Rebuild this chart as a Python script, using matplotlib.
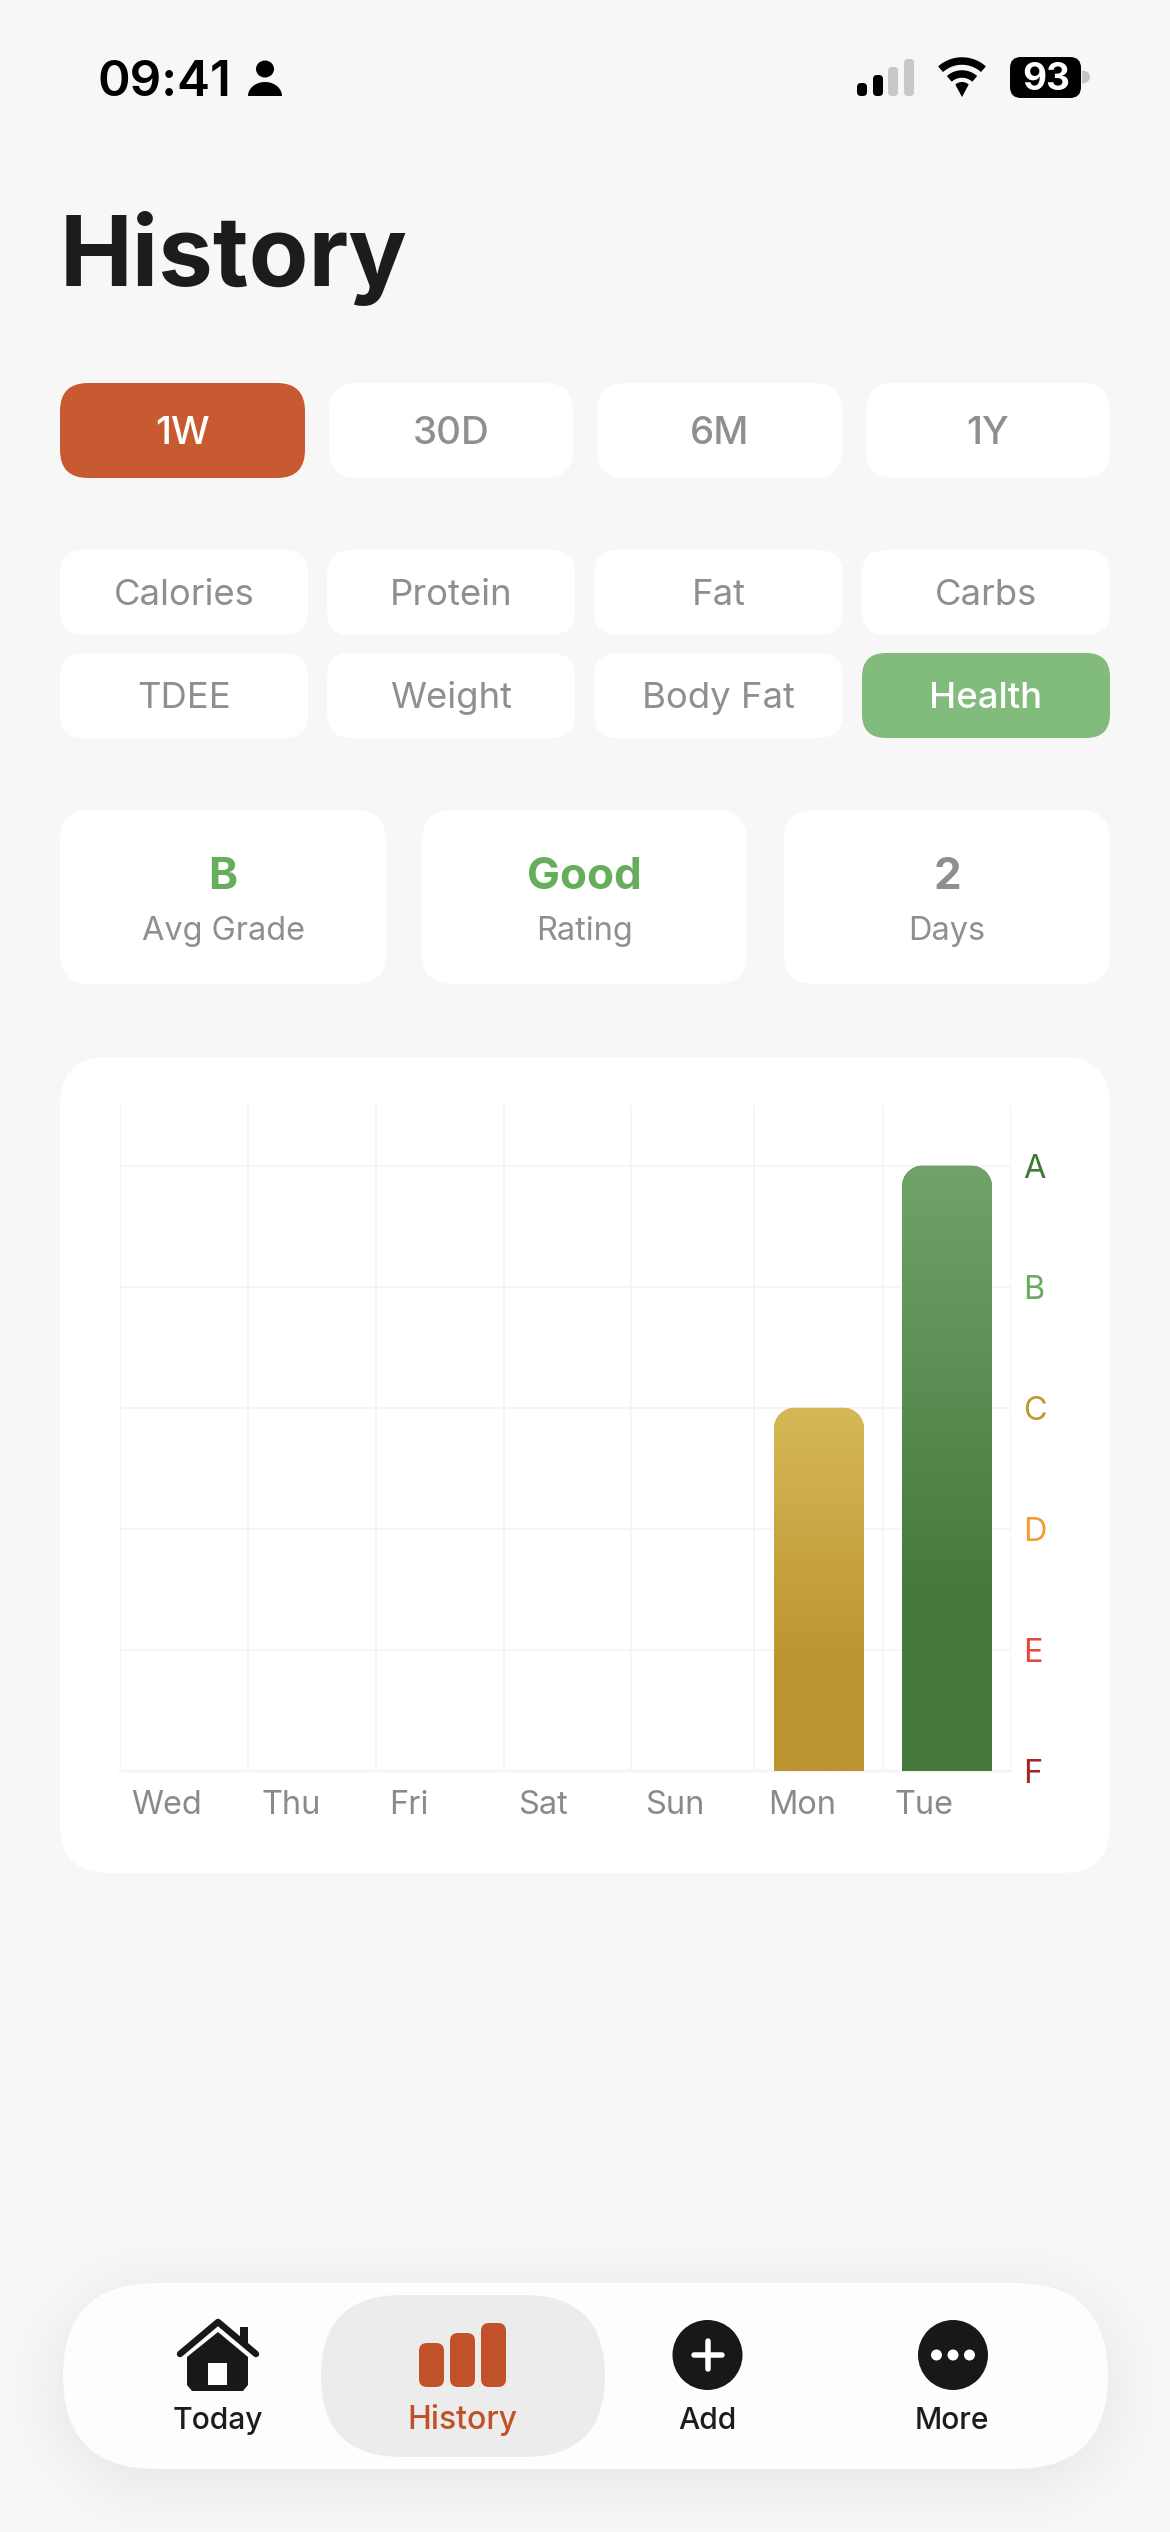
import numpy as np
import matplotlib
matplotlib.use("Agg")
import matplotlib.pyplot as plt
from matplotlib.patches import FancyBboxPatch, Circle, Polygon, PathPatch, Rectangle, Ellipse
from matplotlib.path import Path
from matplotlib.colors import LinearSegmentedColormap

# ---------- data ----------
days = ["Wed", "Thu", "Fri", "Sat", "Sun", "Mon", "Tue"]
grade_scores = [None, None, None, None, None, 3, 5]
grade_labels = ["F", "E", "D", "C", "B", "A"]
grade_colors = ["#A82424", "#E5483F", "#F29D2E", "#BF9730", "#66AE5C", "#3F7A35"]
periods = ["1W", "30D", "6M", "1Y"]
metrics_row1 = ["Calories", "Protein", "Fat", "Carbs"]
metrics_row2 = ["TDEE", "Weight", "Body Fat", "Health"]
stat_values = ["B", "Good", "2"]
stat_names = ["Avg Grade", "Rating", "Days"]
nav_items = ["Today", "History", "Add", "More"]

# ---------- layout ----------
W, H = 1170, 2532
BG = "#F7F7F8"
GREY = "#8E8E93"
DARK = "#1C1C1E"
FONT = "Inter"
plt.rcParams["font.family"] = [FONT, "DejaVu Sans"]

fig = plt.figure(figsize=(W / 100, H / 100), dpi=100, facecolor=BG)
ui = fig.add_axes([0, 0, 1, 1], zorder=0)
ui.set_xlim(0, W)
ui.set_ylim(H, 0)
ui.axis("off")


def px(v):
    return v * 0.72


def T(x, y, s, size, color=GREY, weight="normal", ha="center"):
    ui.text(x, y, s, fontsize=px(size), color=color, fontweight=weight,
            ha=ha, va="baseline", family=[FONT, "DejaVu Sans"], zorder=6)


def box(x0, y0, x1, y1, r, color, z=2):
    ui.add_patch(FancyBboxPatch((x0, y0), x1 - x0, y1 - y0,
                                boxstyle=f"round,pad=0,rounding_size={r}",
                                fc=color, ec="none", zorder=z))


# status bar
T(97, 96, "09:41", 49.5, "black", "semibold", "left")
ui.add_patch(Ellipse((265, 69), 18, 17, fc="black", ec="none"))
t = np.linspace(0, np.pi, 40)
ui.add_patch(Polygon(np.c_[265 + 17 * np.cos(t), 96 - 14 * np.sin(t)], fc="black", ec="none"))
sig_x = [857, 873, 888, 904]
sig_top = [83, 75, 67, 59]
sig_col = ["black", "black", "#C8C8C8", "#C8C8C8"]
for x, top, c in zip(sig_x, sig_top, sig_col):
    box(x, top, x + 10, 96, 4, c)
for r in (32, 19):
    a = np.radians(np.linspace(-42, 42, 40))
    ui.plot(962 + r * np.sin(a), 96 - 3 - r * np.cos(a), color="black", lw=px(7.5),
            solid_capstyle="butt", zorder=3)
a = np.radians(np.linspace(-42, 42, 20))
ui.add_patch(Polygon(np.r_[[[962, 97]], np.c_[962 + 10 * np.sin(a), 92 - 10 * np.cos(a)]],
                     fc="black", ec="none", joinstyle="round"))
box(1010, 57, 1081, 98, 11, "black")
T(1046, 90, "93", 37, "white", "bold")
t = np.linspace(-np.pi / 2, np.pi / 2, 30)
ui.add_patch(Polygon(np.c_[1082 + 8 * np.cos(t), 77 + 6.5 * np.sin(t)], fc="#C4C4C4", ec="none"))

# title
T(60, 286, "History", 97.5, DARK, "bold", "left")

# period selector
period_x = [(60, 305), (329, 573), (597, 842), (866, 1110)]
for (x0, x1), name in zip(period_x, periods):
    active = name == "1W"
    box(x0, 383, x1, 478, 28, "#C85A32" if active else "white")
    T((x0 + x1) / 2, 444, name, 38.5, "white" if active else GREY, "medium")

# metric selector
metric_x = [(60, 308), (327, 575), (594, 843), (862, 1110)]
for row, y0, y1, base in ((metrics_row1, 550, 635, 605), (metrics_row2, 653, 738, 708)):
    for (x0, x1), name in zip(metric_x, row):
        active = name == "Health"
        box(x0, y0, x1, y1, 24, "#82BC7C" if active else "white")
        T((x0 + x1) / 2, base, name, 36.5, "white" if active else GREY, "medium" if active else "normal")

# stat cards
stat_x = [(60, 386), (422, 747), (784, 1110)]
stat_cols = ["#66AD5C", "#66AD5C", GREY]
for (x0, x1), v, n, c in zip(stat_x, stat_values, stat_names, stat_cols):
    box(x0, 810, x1, 984, 30, "white")
    T((x0 + x1) / 2, 889, v, 44, c, "bold")
    T((x0 + x1) / 2, 940, n, 32.5, GREY)

# chart card
box(60, 1057, 1110, 1873, 48, "white")

# ---------- chart ----------
AX_X0, AX_X1, AX_Y0, AX_Y1 = 120, 1011, 1105, 1771
ax = fig.add_axes([AX_X0 / W, 1 - AX_Y1 / H, (AX_X1 - AX_X0) / W, (AX_Y1 - AX_Y0) / H], zorder=2)
ax.patch.set_alpha(0)
UNIT_X = (AX_X1 - AX_X0) / 7
UNIT_Y = (AX_Y1 - AX_Y0) / 5.5
ax.set_xlim(0, 7)
ax.set_ylim(0, 5.5)


def ux(p):
    return (p - AX_X0) / UNIT_X


grid_x = [ux(p) for p in (120, 248, 376, 504, 631, 754, 883, 1011)]
label_x = [ux(p) for p in (167, 291, 409, 543, 675, 802, 924)]
bar_x = [ux(p) for p in (0, 0, 0, 0, 0, 819, 947)]
gradients = {5: ("#D6B857", "#BC9530"), 6: ("#70A369", "#467A3C")}

ax.set_xticks(grid_x)
ax.set_xticklabels([])
ax.set_xticks(label_x, labels=days, minor=True)
ax.set_yticks(range(6))
ax.set_yticklabels(grade_labels)
ax.yaxis.tick_right()
ax.tick_params(axis="both", which="both", length=0)
ax.tick_params(axis="x", which="minor", labelsize=px(32.5), labelcolor="#8A8A8E", pad=px(43))
ax.tick_params(axis="y", labelsize=px(32.5), pad=px(12))
for lab in ax.get_xticklabels(minor=True):
    lab.set_va("baseline")
for lab, c in zip(ax.get_yticklabels(), grade_colors):
    lab.set_color(c)
ax.grid(True, which="major", color="#F4F4F5", lw=px(1.8))
ax.set_axisbelow(True)
for s in ax.spines.values():
    s.set_visible(False)
ax.axhline(0, color="#F4F4F5", lw=px(2.5), zorder=0.5, clip_on=False)

idx = [i for i, v in enumerate(grade_scores) if v is not None]
vals = [grade_scores[i] for i in idx]
bar_w = 90 / UNIT_X
bars = ax.bar([bar_x[i] for i in idx], vals, width=bar_w, zorder=3, linewidth=0)
rx, ry = 21 / UNIT_X, 21 / UNIT_Y
k = 0.45
for i, b in zip(idx, bars):
    x0, x1 = b.get_x(), b.get_x() + b.get_width()
    top = b.get_height()
    verts = [(x0, 0), (x0, top - ry), (x0, top - ry * k), (x0 + rx * k, top), (x0 + rx, top),
             (x1 - rx, top), (x1 - rx * k, top), (x1, top - ry * k), (x1, top - ry), (x1, 0), (x0, 0)]
    codes = [Path.MOVETO, Path.LINETO, Path.CURVE4, Path.CURVE4, Path.CURVE4,
             Path.LINETO, Path.CURVE4, Path.CURVE4, Path.CURVE4, Path.LINETO, Path.CLOSEPOLY]
    clip = PathPatch(Path(verts, codes), transform=ax.transData, fc="none", ec="none")
    ax.add_patch(clip)
    c_top, c_bot = gradients[i]
    b.set_facecolor(c_bot)
    b.set_clip_path(clip)
    cmap = LinearSegmentedColormap.from_list("g", [(0, c_bot), (0.3, c_bot), (1, c_top)])
    im = ax.imshow(np.linspace(0, 1, 256)[:, None], origin="lower", aspect="auto", cmap=cmap,
                   extent=(x0, x1, 0, top), zorder=3.5, interpolation="bilinear")
    im.set_clip_path(clip)
ax.set_xlim(0, 7)
ax.set_ylim(0, 5.5)

# ---------- tab bar ----------
NX0, NX1, NY0, NY1 = 63, 1108, 2283, 2469
yy, xx = np.mgrid[2100:H, 0:W]
cx, cy = (NX0 + NX1) / 2, (NY0 + NY1) / 2 + 12
hw, hh = (NX1 - NX0) / 2, (NY1 - NY0) / 2
R = hh
qx = np.abs(xx + 0.5 - cx) - (hw - R)
qy = np.abs(yy + 0.5 - cy) - (hh - R)
sd = np.hypot(np.maximum(qx, 0), np.maximum(qy, 0)) + np.minimum(np.maximum(qx, qy), 0) - R
alpha = 0.055 * np.clip(1 - (sd + 15) / 95, 0, 1) ** 2
alpha = np.where(sd < -15, 0.055, alpha)
rgba = np.zeros(sd.shape + (4,))
rgba[..., 3] = alpha
ui.imshow(rgba, extent=(0, W, H, 2100), aspect="auto", zorder=1, interpolation="nearest")
ui.set_xlim(0, W)
ui.set_ylim(H, 0)

box(NX0, NY0, NX1, NY1, 93, "#FDFDFD", z=2)
box(321, 2295, 605, 2457, 81, "#ECECEC", z=3)

nav_x = [218, 462, 707, 952]
nav_cols = [DARK, "#C05128", DARK, DARK]
nav_sizes = [30, 32, 30, 30]
for x, n, c, s in zip(nav_x, nav_items, nav_cols, nav_sizes):
    T(x, 2429, n, s, c, "medium")

ICON = "#18181A"
# home
ui.plot([180, 218, 256], [2354, 2322, 2354], color=ICON, lw=px(6.5), solid_capstyle="round",
        solid_joinstyle="round", zorder=4)
ui.add_patch(Rectangle((240, 2327), 8, 18, fc=ICON, ec="none", zorder=4))
ui.add_patch(Polygon([(218, 2332), (248, 2357), (248, 2385), (243, 2391), (192, 2391), (187, 2385), (187, 2357)],
                     fc=ICON, ec="none", zorder=4))
ui.add_patch(Rectangle((208, 2363), 19, 22, fc="white", ec="none", zorder=5))
# history bars
for x0, top in ((419, 2343), (450, 2333), (481, 2323)):
    box(x0, top, x0 + 25, 2387, 8, "#C05128", z=4)
# add
ui.add_patch(Circle((707.5, 2355), 35, fc=ICON, ec="none", zorder=4))
ui.plot([707.5, 707.5], [2341, 2369], color="white", lw=px(5.5), solid_capstyle="round", zorder=5)
ui.plot([693.5, 721.5], [2355, 2355], color="white", lw=px(5.5), solid_capstyle="round", zorder=5)
# more
ui.add_patch(Circle((953, 2355), 35, fc=ICON, ec="none", zorder=4))
for x in (936.5, 953, 969.5):
    ui.add_patch(Circle((x, 2355), 5.5, fc="white", ec="none", zorder=5))

fig.savefig("out.png", dpi=100, facecolor=BG)
